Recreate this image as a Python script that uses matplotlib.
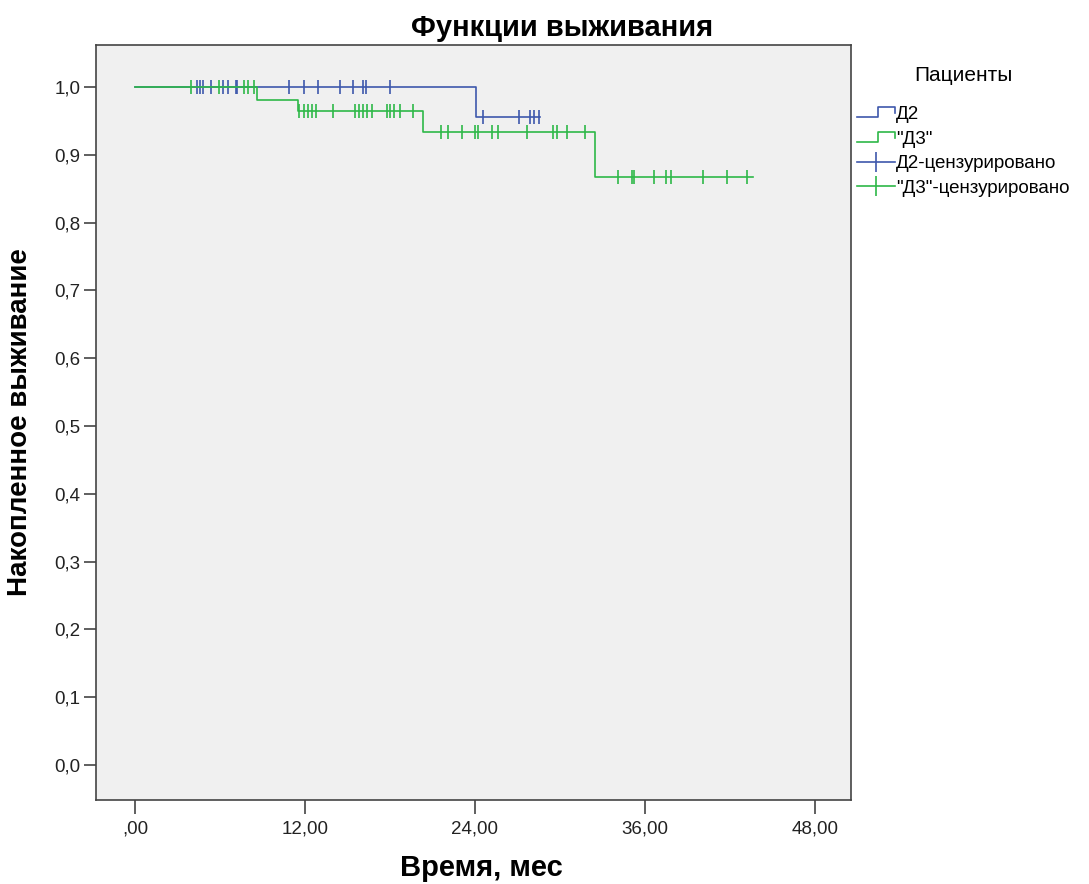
import numpy as np
import matplotlib
matplotlib.use('Agg')
import matplotlib.pyplot as plt
from matplotlib.lines import Line2D
from matplotlib.legend_handler import HandlerBase
from matplotlib.ticker import FixedLocator, FuncFormatter

plt.rcParams['font.family'] = ['Liberation Sans', 'DejaVu Sans']

# Д2: step times (months) and cumulative survival
d2_times = [0.0, 24.1]
d2_surv = [1.0, 0.956]
d2_end = 28.6
d2_censored = [4.4, 4.6, 4.8, 5.4, 6.2, 6.6, 7.1, 7.2, 10.9, 11.9, 12.9,
               14.5, 15.4, 16.1, 16.3, 18.0, 24.6, 27.1, 27.9, 28.2, 28.5]

# "Д3"
d3_times = [0.0, 8.6, 11.5, 20.3, 32.5]
d3_surv = [1.0, 0.981, 0.964, 0.934, 0.868]
d3_end = 43.6
d3_censored = [3.95, 5.9, 7.7, 8.0, 8.4,
               11.6, 11.9, 12.2, 12.5, 12.8, 14.0, 15.5, 15.8, 16.1, 16.4, 16.7,
               17.8, 18.0, 18.3, 18.7, 19.6,
               21.6, 22.1, 23.1, 24.0, 24.2, 25.2, 25.6, 27.7, 29.5, 29.8, 30.5, 31.8,
               34.1, 35.1, 35.2, 36.6, 37.5, 37.8, 40.1, 41.8, 43.2]

x_ticks = [0, 12, 24, 36, 48]
y_ticks = [0.0, 0.1, 0.2, 0.3, 0.4, 0.5, 0.6, 0.7, 0.8, 0.9, 1.0]

BLUE = '#3e58ac'
GREEN = '#2eb848'


def surv_at(times, surv, t):
    idx = np.searchsorted(times, t, side='right') - 1
    return np.asarray(surv)[idx]


class StepHandler(HandlerBase):
    # legend handle drawn as a small step, like SPSS
    def create_artists(self, legend, orig_handle, xdescent, ydescent,
                       width, height, fontsize, trans):
        x0, y0 = -xdescent, -ydescent
        xs = [x0, x0 + 0.55 * width, x0 + 0.55 * width, x0 + width, x0 + width]
        ys = [y0 + 0.15 * height, y0 + 0.15 * height, y0 + 0.9 * height,
              y0 + 0.9 * height, y0 + 0.45 * height]
        line = Line2D(xs, ys, color=orig_handle.get_color(), lw=1.2)
        line.set_transform(trans)
        return [line]


fig = plt.figure(figsize=(10.89, 8.84), dpi=100)
ax = fig.add_axes([96 / 1089, 1 - 800 / 884, 755 / 1089, 755 / 884])
ax.set_facecolor('#f0f0f0')

groups = [
    (d2_times, d2_surv, d2_end, d2_censored, BLUE),
    (d3_times, d3_surv, d3_end, d3_censored, GREEN),
]
step_handles = []
cens_handles = []
for times, surv, end, cens, col in groups:
    xs = list(times) + [end]
    ys = list(surv) + [surv[-1]]
    h, = ax.step(xs, ys, where='post', color=col, lw=1.2)
    step_handles.append(h)
    cy = surv_at(times, surv, cens)
    ax.plot(cens, cy, linestyle='none', marker='|', markersize=9.5,
            markeredgewidth=1.2, color=col)
    cens_handles.append(Line2D([], [], color=col, lw=1.2, marker='|',
                               markersize=14, markeredgewidth=1.2))

ax.set_xlim(-2.75, 50.54)
ax.set_ylim(-0.0516, 1.062)
ax.xaxis.set_major_locator(FixedLocator(x_ticks))
ax.yaxis.set_major_locator(FixedLocator(y_ticks))
ax.xaxis.set_major_formatter(FuncFormatter(
    lambda v, p: ',00' if v == 0 else f'{v:.2f}'.replace('.', ',')))
ax.yaxis.set_major_formatter(FuncFormatter(lambda v, p: f'{v:.1f}'.replace('.', ',')))
ax.tick_params(axis='x', length=10, width=1.2, color='#444444', labelsize=13.5,
               labelcolor='#222222', pad=5)
ax.tick_params(axis='y', length=9, width=1.2, color='#444444', labelsize=13.5,
               labelcolor='#222222', pad=2)
for sp in ax.spines.values():
    sp.set_color('#444444')
    sp.set_linewidth(1.2)

ax.set_xlabel('Время, мес', fontsize=21, fontweight='bold')
ax.xaxis.set_label_coords(0.511, -0.072)
ax.set_ylabel('Накопленное выживание', fontsize=20, fontweight='bold')
ax.yaxis.set_label_coords(-0.083, 0.5)

fig.text(562 / 1089, 1 - 28 / 884, 'Функции выживания', fontsize=21,
         fontweight='bold', ha='center', va='center')

leg = fig.legend(step_handles + cens_handles,
                 ['Д2', '"Д3"', 'Д2-цензурировано', '"Д3"-цензурировано'],
                 handler_map={h: StepHandler() for h in step_handles},
                 title='Пациенты', loc='upper left',
                 bbox_to_anchor=(857 / 1089, 1 - 66 / 884), frameon=False,
                 fontsize=13.5, title_fontsize=15, handlelength=2.0,
                 handletextpad=0.1, labelspacing=0.4, borderpad=0.0,
                 borderaxespad=0.0)
leg._legend_box.sep = 15

fig.savefig('out.png', dpi=100)
